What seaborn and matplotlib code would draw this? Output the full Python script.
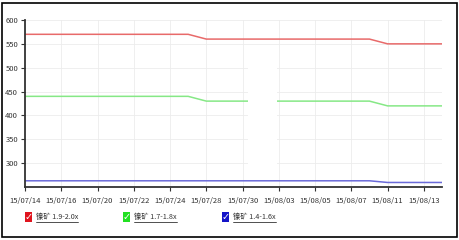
import matplotlib
matplotlib.use('Agg')
import matplotlib.pyplot as plt
import seaborn as sns
import pandas as pd
from matplotlib.patches import Rectangle
from matplotlib.lines import Line2D

dates = ['15/07/14', '15/07/15', '15/07/16', '15/07/17', '15/07/20', '15/07/21',
         '15/07/22', '15/07/23', '15/07/24', '15/07/27', '15/07/28', '15/07/29',
         '15/07/30', '15/07/31', '15/08/03', '15/08/04', '15/08/05', '15/08/06',
         '15/08/07', '15/08/10', '15/08/11', '15/08/12', '15/08/13', '15/08/14']
series_names = ['镍矿 1.9-2.0x', '镍矿 1.7-1.8x', '镍矿 1.4-1.6x']
red_vals = [570, 570, 570, 570, 570, 570, 570, 570, 570, 570, 560, 560,
            560, 560, 560, 560, 560, 560, 560, 560, 550, 550, 550, 550]
green_vals = [440, 440, 440, 440, 440, 440, 440, 440, 440, 440, 430, 430,
              430, 430, 430, 430, 430, 430, 430, 430, 420, 420, 420, 420]
blue_vals = [263, 263, 263, 263, 263, 263, 263, 263, 263, 263, 263, 263,
             263, 263, 263, 263, 263, 263, 263, 263, 259.5, 259.5, 259.5, 259.5]
y_ticks = [300, 350, 400, 450, 500, 550, 600]
x_tick_labels = ['15/07/14', '15/07/16', '15/07/20', '15/07/22', '15/07/24', '15/07/28',
                 '15/07/30', '15/08/03', '15/08/05', '15/08/07', '15/08/11', '15/08/13']

line_colors = ['#e86a6a', '#86e886', '#6a6ad8']
box_colors = ['#e0141e', '#22e022', '#1414c8']

sns.set_theme(style='white')
plt.rcParams['font.family'] = ['Liberation Sans Narrow', 'Noto Sans CJK SC', 'DejaVu Sans']

rows = []
for name, vals in zip(series_names, [red_vals, green_vals, blue_vals]):
    for d, v in zip(dates, vals):
        rows.append({'date': d, 'value': v, 'series': name})
df = pd.DataFrame(rows)

W, H = 459, 240
fig = plt.figure(figsize=(W / 100, H / 100), dpi=100)
fig.patch.set_facecolor('white')
ax = fig.add_axes([25 / W, 1 - 187 / H, 417 / W, 167 / H])

sns.lineplot(data=df, x='date', y='value', hue='series', palette=line_colors,
             sort=False, legend=False, linewidth=1.1, ax=ax)

ax.set_xlim(0, len(dates) - 1)
ax.set_ylim(250, 600)
ax.set_yticks(y_ticks)
ax.set_xticks([dates.index(l) for l in x_tick_labels])
ax.set_xticklabels(x_tick_labels)
ax.set_xlabel('')
ax.set_ylabel('')
ax.grid(True, color='#ececec', linewidth=0.6)
ax.set_axisbelow(True)
for s in ['top', 'right']:
    ax.spines[s].set_visible(False)
for s in ['left', 'bottom']:
    ax.spines[s].set_color('#333333')
    ax.spines[s].set_linewidth(1.3)
ax.tick_params(axis='both', direction='out', length=3, width=0.8, color='#333333',
               labelsize=5.5, labelcolor='#333333', pad=2, bottom=True, left=True)
ax.tick_params(axis='x', pad=4)

# white overlay box seen in the reference (hides part of green line and grid)
ax.add_patch(Rectangle((0.535, 0.09), 0.069, 0.75, transform=ax.transAxes,
                       facecolor='white', edgecolor='none', zorder=5))

# outer border
fig.patches.append(Rectangle((2 / W, 3 / H), 455 / W, 234 / H, transform=fig.transFigure,
                             fill=False, edgecolor='black', linewidth=1.2))

# custom legend
legend_x = [25, 123, 222]
fig.canvas.draw()
renderer = fig.canvas.get_renderer()
for lx, name, bc in zip(legend_x, series_names, box_colors):
    fig.patches.append(Rectangle((lx / W, 1 - 222 / H), 7 / W, 10 / H,
                                 transform=fig.transFigure, facecolor=bc, edgecolor='none'))
    fig.text((lx + 3.7) / W, 1 - 217 / H, '✓', color='white', fontsize=7, fontweight='bold',
             ha='center', va='center', family=['DejaVu Sans'])
    t = fig.text((lx + 11) / W, 1 - 217.5 / H, name, fontsize=5.2, color='#333333',
                 ha='left', va='center', family=['Noto Sans CJK SC', 'DejaVu Sans'])
    bb = t.get_window_extent(renderer=renderer)
    fig.lines.append(Line2D([bb.x0 / W, bb.x1 / W], [(1 - 221.5 / H), (1 - 221.5 / H)],
                            transform=fig.transFigure, color='#333333', linewidth=0.6))

fig.savefig('out.png', dpi=100, facecolor='white')
